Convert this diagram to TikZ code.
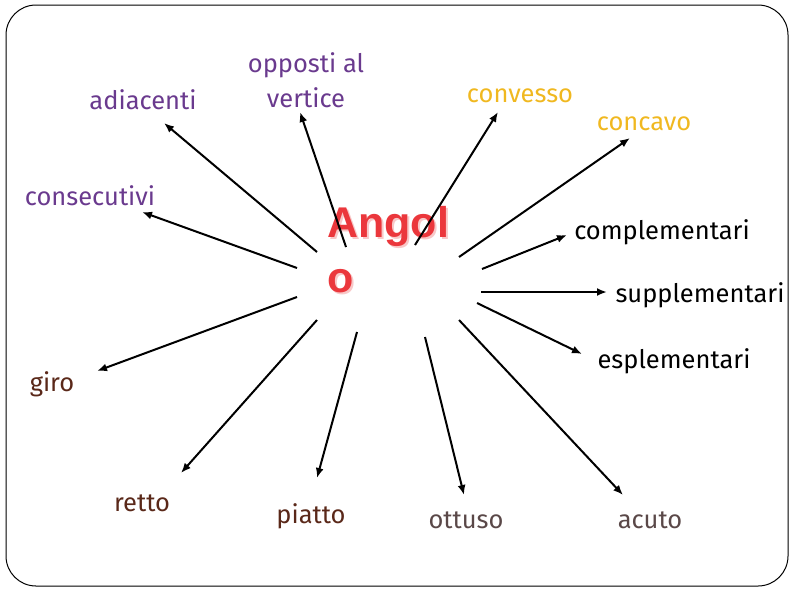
\documentclass[tikz,border=0pt]{standalone}
\usepackage{fontspec}
\setmainfont{Fira Sans}
\newfontfamily\titlefont{Liberation Sans}
\usetikzlibrary{arrows.meta}
\definecolor{viola}{RGB}{106,58,142}
\definecolor{oro}{RGB}{240,184,32}
\definecolor{marrone}{RGB}{90,40,25}
\definecolor{grigio}{RGB}{90,72,72}
\definecolor{rosso}{RGB}{235,55,60}
\definecolor{rosa}{RGB}{248,200,200}

\begin{document}
\begin{tikzpicture}[x=1pt,y=-1pt,
    voce/.style={font=\fontsize{25.5}{35}\selectfont, inner sep=0pt, align=center},
    titolo/.style={font=\titlefont\bfseries\fontsize{43}{55}\selectfont, inner sep=0pt, align=left, anchor=north west},
    freccia/.style={-{Latex[length=10pt,width=8pt]}, line width=2pt}]
        \useasboundingbox (0,0) rectangle (794,595);
        \draw[rounded corners=30pt, line width=1pt] (6,5) rectangle (788,586);

        \node[titolo, rosa] (ombra) at (329,208) {Angol\\o};
        \node[titolo, rosso] (angolo) at (327,206) {Angol\\o};

        \node[voce, viola] (adiacenti) at (143,100) {adiacenti};
        \node[voce, viola] (opposti) at (306,80) {opposti al\\vertice};
        \node[voce, viola] (consecutivi) at (90,196) {consecutivi};
        \node[voce, oro] (convesso) at (520,96) {convesso};
        \node[voce, oro] (concavo) at (644,124) {concavo};
        \node[voce] (complementari) at (662,232) {complementari};
        \node[voce] (supplementari) at (700,295) {supplementari};
        \node[voce] (esplementari) at (674,361) {esplementari};
        \node[voce, marrone] (giro) at (52,384) {giro};
        \node[voce, marrone] (retto) at (142,503) {retto};
        \node[voce, marrone] (piatto) at (311,516) {piatto};
        \node[voce, grigio] (ottuso) at (466,520) {ottuso};
        \node[voce, grigio] (acuto) at (650,520) {acuto};

        \foreach \n/\a/\b in {adiacenti/317/252, opposti/346/247, consecutivi/297/268,
                giro/297/297, retto/317/320, piatto/357/332, ottuso/425/337, acuto/459/320,
                esplementari/477/303, supplementari/481/292, complementari/482/269,
                concavo/459/257, convesso/415/245}
            \coordinate (da-\n) at (\a,\b);
        \foreach \n/\a/\b in {adiacenti/164/123, opposti/300/112, consecutivi/142/212,
                giro/97/371, retto/181/473, piatto/317/478, ottuso/464/495, acuto/623/495,
                esplementari/582/354, supplementari/607/292, complementari/567/235,
                concavo/630/138, convesso/498/112}
            \coordinate (a-\n) at (\a,\b);

        \foreach \n in {adiacenti,opposti,consecutivi,giro,retto,piatto,ottuso,acuto,
                esplementari,supplementari,complementari,concavo,convesso}
            \draw[freccia] (da-\n) -- (a-\n);
\end{tikzpicture}
\end{document}
